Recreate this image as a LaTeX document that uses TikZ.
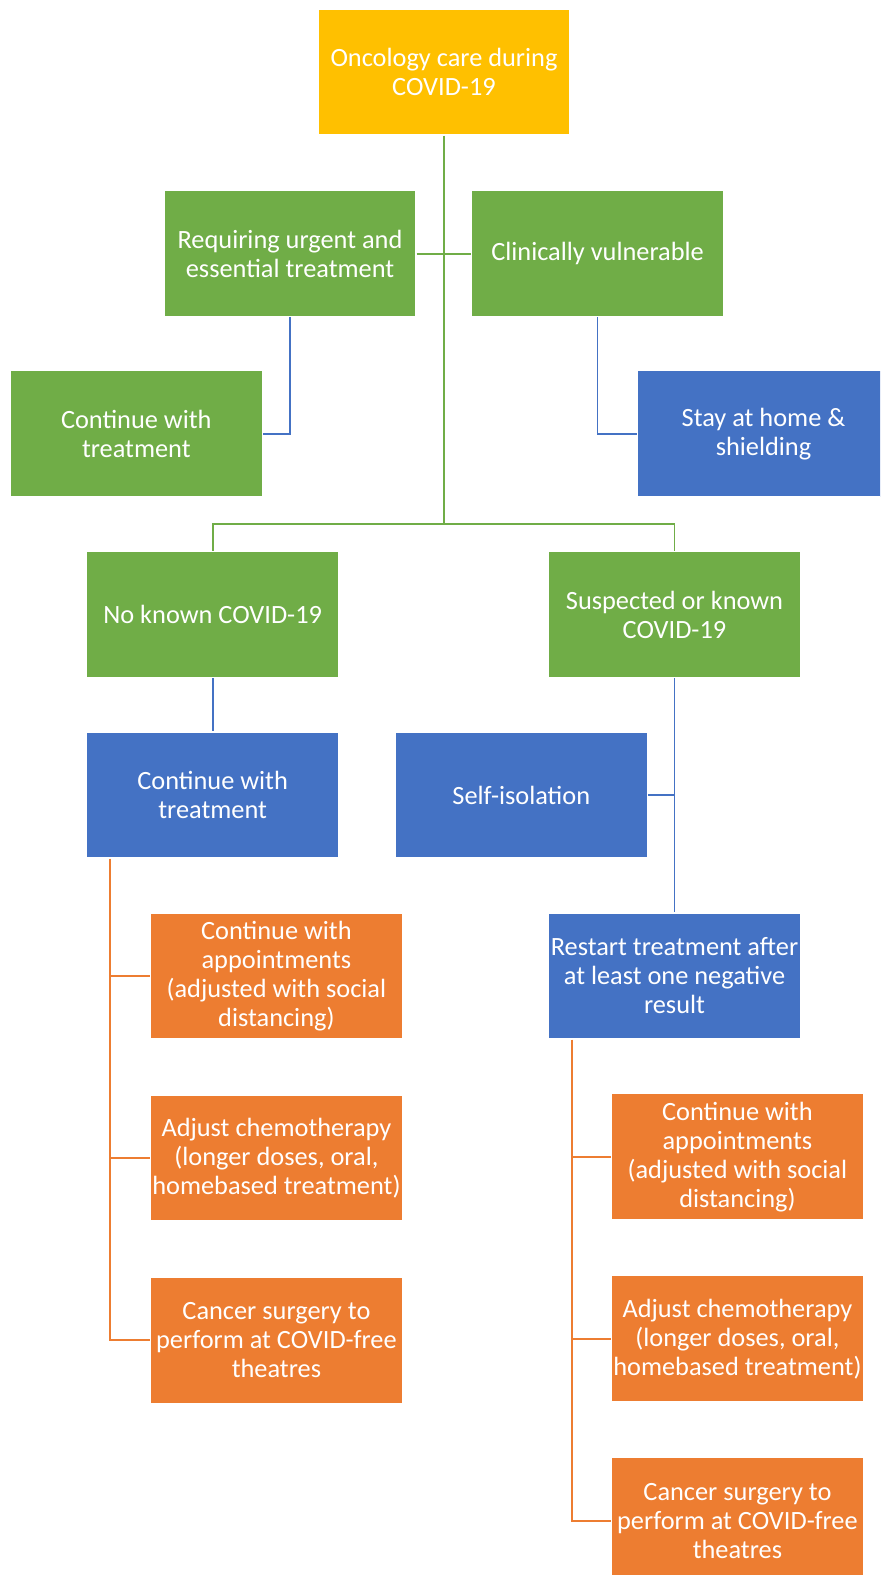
\documentclass[tikz,border=0pt]{standalone}
\usepackage{fontspec}
\setmainfont{Carlito}
\usetikzlibrary{positioning}

\definecolor{gold}{HTML}{FFC000}
\definecolor{leaf}{HTML}{70AD47}
\definecolor{sky}{HTML}{4472C4}
\definecolor{amber}{HTML}{ED7D31}

\begin{document}
\begin{tikzpicture}[x=0.02cm, y=-0.02cm,
    box/.style={rectangle, draw=white, line width=0.6pt, minimum width=5.04cm,
      minimum height=2.52cm, inner sep=0pt, align=center, text=white,
      font=\fontsize{15}{16.5}\selectfont},
    gline/.style={draw=leaf, line width=1pt},
    bline/.style={draw=sky, line width=1pt},
    oline/.style={draw=amber, line width=1pt}]
    \useasboundingbox (0,0) rectangle (880,1575);
    \clip (0,0) rectangle (880,1575);

    % Nodes
    \node (top) [box, fill=gold] at (444,72) {Oncology care during\\COVID-19};
    \node (urgent) [box, fill=leaf] at (290,253.7) {Requiring urgent and\\essential treatment};
    \node (vuln) [box, fill=leaf] at (597.6,253.7) {Clinically vulnerable};
    \node (carry) [box, fill=leaf] at (136.3,433.7) {Continue with\\treatment};
    \node (shield) [box, fill=sky] at (763.5,433.7) {Stay at home \&\\shielding};
    \node (nocovid) [box, fill=leaf] at (212.7,614.5) {No known COVID-19};
    \node (covid) [box, fill=leaf] at (674.5,614.5) {Suspected or known\\COVID-19};
    \node (treat) [box, fill=sky] at (212.7,795) {Continue with\\treatment};
    \node (isolate) [box, fill=sky] at (521.3,795) {Self-isolation};
    \node (restart) [box, fill=sky] at (674.5,976) {Restart treatment after\\at least one negative\\result};

    % Left column
    \node (apptL) [box, fill=amber] at (276.4,976) {Continue with\\appointments\\(adjusted with social\\distancing)};
    \node (chemoL) [box, fill=amber, below=1.1cm of apptL] {Adjust chemotherapy\\(longer doses, oral,\\homebased treatment)};
    \node (surgL) [box, fill=amber, below=1.1cm of chemoL] {Cancer surgery to\\perform at COVID-free\\theatres};

    % Right column
    \node (apptR) [box, fill=amber] at (737.4,1156.7) {Continue with\\appointments\\(adjusted with social\\distancing)};
    \node (chemoR) [box, fill=amber, below=1.1cm of apptR] {Adjust chemotherapy\\(longer doses, oral,\\homebased treatment)};
    \node (surgR) [box, fill=amber, below=1.1cm of chemoR] {Cancer surgery to\\perform at COVID-free\\theatres};

    % Lines
    \path (top.south) ++(0,388.6) coordinate (hub);
    \draw[gline] (top) -- (hub);
    \draw[gline] (urgent) -- (vuln);
    \draw[gline] (nocovid) |- (hub) -| (covid);

    \draw[bline] (urgent) |- (carry);
    \draw[bline] (vuln) |- (shield);
    \draw[bline] (nocovid) -- (treat);
    \draw[bline] (covid) -- (restart);
    \draw[bline] (isolate) -- (isolate -| covid);

    \coordinate (lspine) at ([xshift=0.48cm]treat.south west);
    \draw[oline] (lspine) |- (surgL);
    \draw[oline] (lspine |- apptL) -- (apptL);
    \draw[oline] (lspine |- chemoL) -- (chemoL);

    \coordinate (rspine) at ([xshift=0.48cm]restart.south west);
    \draw[oline] (rspine) |- (surgR);
    \draw[oline] (rspine |- apptR) -- (apptR);
    \draw[oline] (rspine |- chemoR) -- (chemoR);
  \end{tikzpicture}
\end{document}
